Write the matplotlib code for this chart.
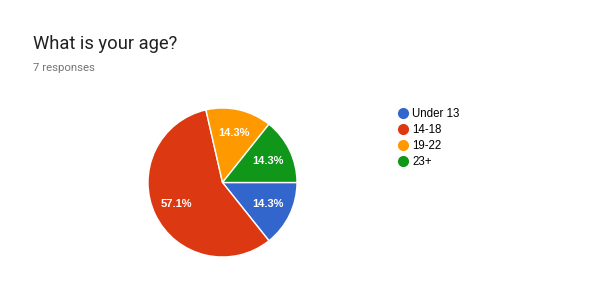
import matplotlib
matplotlib.use("Agg")
import matplotlib.pyplot as plt
from matplotlib.lines import Line2D

# ─── Data ────────────────────────────────────────────────────
categories = ["Under 13", "14-18", "19-22", "23+"]
counts = [1, 4, 1, 1]
colors = ["#3366cc", "#dc3912", "#ff9900", "#109618"]

TITLE = "What is your age?"
SUBTITLE = "7 responses"

W, H = 600, 291
fig = plt.figure(figsize=(W / 100, H / 100), dpi=100)
fig.patch.set_facecolor("white")

# pie centred at (222, 182) px, radius ~74 px
cx, cy, r = 222.5, 182.5, 74.5
ax = fig.add_axes([(cx - r) / W, 1 - (cy + r) / H, 2 * r / W, 2 * r / H])
wedges, texts, autotexts = ax.pie(
    counts, colors=colors, startangle=0, counterclock=False,
    autopct="%1.1f%%", pctdistance=0.68,
    wedgeprops=dict(edgecolor="white", linewidth=1),
    textprops=dict(color="white", fontsize=8, fontweight="bold",
                   family="Liberation Sans"),
)
ax.set_xlim(-1, 1)
ax.set_ylim(-1, 1)
ax.set_aspect("equal")
ax.axis("off")

fig.text(33 / W, 1 - 44 / H, TITLE, fontsize=13.2, family="Roboto",
         color="#212121", va="center", ha="left")
fig.text(33 / W, 1 - 68 / H, SUBTITLE, fontsize=8.2, family="Roboto",
         color="#757575", va="center", ha="left")

handles = [Line2D([], [], marker="o", linestyle="none", markersize=7,
                  markerfacecolor=c, markeredgecolor=c) for c in colors]
leg = fig.legend(handles, categories, loc="upper left",
                 bbox_to_anchor=(398 / W, 1 - 108 / H), frameon=False,
                 prop=dict(family="Liberation Sans", size=8.3),
                 handlelength=0.8, handletextpad=0.45, labelspacing=0.34,
                 borderaxespad=0, borderpad=0)

fig.savefig("out.png", dpi=100)
